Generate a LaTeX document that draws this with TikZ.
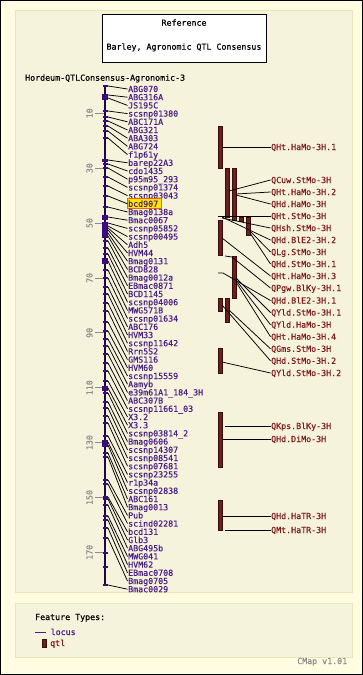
\documentclass[tikz,border=0pt]{standalone}
\usepackage{fontspec}
\newfontfamily\pix[FakeBold=0.5]{DejaVu Sans Mono}
\definecolor{outerbg}{HTML}{FFFCE1}
\definecolor{innerbg}{HTML}{F5F3DB}
\definecolor{innerbd}{HTML}{E9E5B5}
\definecolor{locc}{HTML}{4B1E86}
\definecolor{barc}{HTML}{1E0840}
\definecolor{tickc}{HTML}{3A0C7E}
\definecolor{qtlfill}{HTML}{6B2020}
\definecolor{qtldraw}{HTML}{3A0D0D}
\definecolor{qtltext}{HTML}{7E1C1C}
\definecolor{scalegray}{HTML}{8C8C8C}
\definecolor{hlfill}{HTML}{FFE600}
\definecolor{hldraw}{HTML}{E86A00}
\begin{document}
\begin{tikzpicture}[x=1pt,y=-1pt,
  txt/.style={font=\pix\fontsize{8.3}{9}\selectfont, inner sep=0.5pt, text height=6pt, text depth=0pt},
  lab/.style={txt, anchor=west, text=locc},
  qlab/.style={txt, anchor=west, text=qtltext},
  con/.style={black, line width=0.75pt},
  tickm/.style={tickc, line width=1.2pt},
  sq/.style={fill=tickc},
  qbar/.style={fill=qtlfill, draw=qtldraw, line width=0.5pt},
  sclab/.style={txt, text=scalegray, rotate=90},
  sctick/.style={scalegray, line width=0.7pt}]
\path[use as bounding box] (0,0) rectangle (363,675);
\fill[outerbg] (0,0) rectangle (363,675);
\draw[black, line width=1pt] (0.5,0.5) rectangle (362.5,674.5);
\filldraw[fill=innerbg, draw=innerbd, line width=1pt] (15.5,10.5) rectangle (352.5,592.5);
\filldraw[fill=innerbg, draw=innerbd, line width=1pt] (15.5,603.5) rectangle (352.5,657.5);
% title
\node[draw=black, fill=white, line width=0.8pt, minimum width=164pt, minimum height=48pt] (title) at (184,38) {};
\node[txt] (ref) at (184,22.7) {Reference};
\node[txt] (refname) at (184,46.7) {Barley, Agronomic QTL Consensus};
\node[txt, anchor=west] (mapname) at (24.5,77.7) {Hordeum-QTLConsensus-Agronomic-3};
% scale
\foreach \v in {10,30,50,70,90,110,130,150,170}{
  \pgfmathsetmacro{\yy}{113.3+2.744*(\v-10)}
  \draw[sctick] (95,\yy) -- (104,\yy);
  \node[sclab] (s\v) at (89.5,\yy) {\v};
}
% chromosome bar
\draw[barc, line width=2pt] (105,86) -- (105,586);
\foreach \a/\b in {93.5/99.5, 158.5/161.5, 215/219.5, 222/237.5, 258/264, 385.5/390.5, 440/447}{
  \fill[sq] (102,\a) rectangle (108,\b);
}
\foreach \t in {553,567}{\draw[tickm] (102.5,\t) -- (107.5,\t);}
% loci
\foreach \b/\t [count=\i] in {86/ABG070, 95/ABG316A, 98/JS195C, 111/scsnp01380, 117/ABC171A, 121/ABG321, 126/ABA303, 131/ABG724, 138/f1p61y, 160/barep22A3, 164/cdo1435, 168/p95m95\_293, 177/scsnp01374, 186/scsnp03043, 196/bcd907, 207/Bmag0138a, 217/Bmac0067, 223/scsnp05852, 226/scsnp00495, 228/Adh5, 230/HVM44, 233/Bmag0131, 236/BCD828, 241/Bmag0012a, 248/EBmac0871, 254/BCD1145, 261/scsnp04006, 270/MWG571B, 278/scsnp01634, 287/ABC176, 294/HVM33, 303/scsnp11642, 311/Rrn5S2, 322/GMS116, 331/HVM60, 339/scsnp15559, 346/Aamyb, 354/e39m61A1\_184\_3H, 363/ABC307B, 371/scsnp11661\_03, 381/X3.2, 388/X3.3, 393/scsnp03814\_2, 402/Bmag0606, 408/scsnp14307, 416/scsnp08541, 423/scsnp07681, 436/scsnp23255, 442/r1p34a, 445/scsnp02838, 453/ABC161, 457/Bmag0013, 480/Pub, 484/scind02281, 497/bcd131, 499/Glb3, 505/ABG495b, 516/MWG041, 520/HVM62, 528/EBmac0708, 538/Bmag0705, 585/Bmac0029}{
  \pgfmathsetmacro{\ly}{89+8.2*(\i-1)}
  \ifnum\i=15
    \fill[hlfill, draw=hldraw, line width=0.8pt] (127,\ly-5) rectangle (161.5,\ly+5);
  \fi
  \draw[tickm] (102.5,\b) -- (107.5,\b);
  \coordinate (B\i) at (108,\b);
  \node[lab] (L\i) at (127.5,\ly) {\t};
  \draw[con] (B\i) -- (L\i.west);
}
% QTL bars
\foreach \xa/\ya/\yb in {218/126.5/168, 225/168/217, 232/168/220, 239/217/221, 246/217/235, 218/220/255, 232/256/298, 218/298/311, 225/298/322, 218/348/373, 218/412/467, 218/500/530}{
  \filldraw[qbar] (\xa,\ya) rectangle (\xa+4,\yb);
}
% QTL labels and connectors
\foreach \sx/\sy/\mx/\my/\ly/\t [count=\i] in {
  222/147/222/147/147/QHt.HaMo-3H.1,
  229/191/229/191/180/QCuw.StMo-3H,
  236/194/236/194/192/QHt.HaMo-3H.2,
  236/195/236/195/204/QHd.HaMo-3H,
  218/216/218/216/216/QHt.StMo-3H,
  222/218/222/218/228/QHsh.StMo-3H,
  222/217/222/217/240/QHd.BlE2-3H.2,
  250/231/250/231/252/QLg.StMo-3H,
  250/233/250/233/264/QHd.StMo-3H.1,
  222/238/222/238/276/QHt.HaMo-3H.3,
  225/256/232/257/288/QPgw.BlKy-3H.1,
  218/273/223/273/300.5/QHd.BlE2-3H.1,
  236/278/236/278/312.5/QYld.StMo-3H.1,
  236/280/236/280/324.7/QYld.HaMo-3H,
  236/282/236/282/336.7/QHt.HaMo-3H.4,
  229/310/229/310/348.8/QGms.StMo-3H,
  222/305/222/305/360.8/QHd.StMo-3H.2,
  222/362/222/362/373/QYld.StMo-3H.2,
  225/426/225/426/426/QKps.BlKy-3H,
  222/439/222/439/439/QHd.DiMo-3H,
  222/516/222/516/516/QHd.HaTR-3H,
  225/530/225/530/530/QMt.HaTR-3H}{
  \node[qlab] (Q\i) at (270.5,\ly) {\t};
  \coordinate (qs\i) at (\sx,\sy);
  \coordinate (qm\i) at (\mx,\my);
  \draw[con] (qs\i) -- (qm\i) -- (Q\i.west);
}
% legend
\node[txt, anchor=west] (ftypes) at (34.5,617) {Feature Types:};
\draw[locc, line width=1pt] (35,632) -- (46,632);
\node[lab] (leglocus) at (50,632) {locus};
\filldraw[qbar] (42.5,639) rectangle (46,647);
\node[qlab] (legqtl) at (49.5,643) {qtl};
\node[txt, anchor=west, text=scalegray] (cmap) at (296.5,661) {CMap v1.01};
\end{tikzpicture}
\end{document}
